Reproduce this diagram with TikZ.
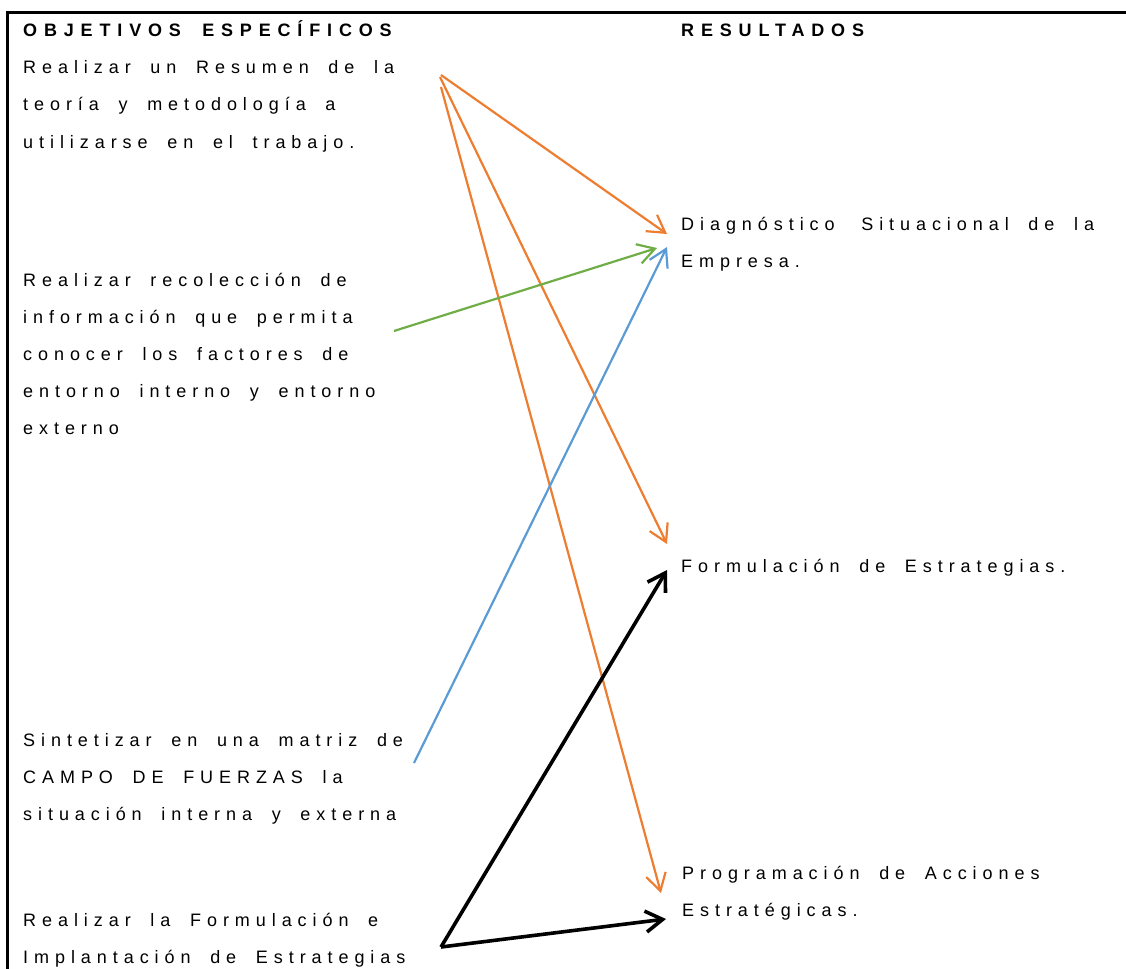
\documentclass[tikz,border=0pt]{standalone}
\usepackage{fontspec}
\setmainfont{Liberation Sans}
\usetikzlibrary{arrows.meta}
\definecolor{orangeA}{HTML}{ED7D31}
\definecolor{greenA}{HTML}{70AD47}
\definecolor{blueA}{HTML}{5B9BD5}
\newfontfamily\spaced[LetterSpace=33,WordSpace=1.8]{Liberation Sans}
\newfontfamily\spacedbold[LetterSpace=38,WordSpace=1.8]{Liberation Sans Bold}
\tikzset{
  txt/.style={anchor=base west, inner sep=0pt, font=\fontsize{18bp}{20bp}\spaced},
  hdr/.style={anchor=base west, inner sep=0pt, font=\fontsize{18bp}{20bp}\spacedbold},
  conn/.style={line width=2.2bp, -{Straight Barb[length=17bp,width=20bp]}},
  thickconn/.style={line width=3.6bp, -{Straight Barb[length=17bp,width=21bp]}},
  frame/.style={line width=3bp}
}
\begin{document}
\begin{tikzpicture}[x=1bp,y=-1bp]
\useasboundingbox (0,0) rectangle (1126,969);
% frame
\coordinate (tl) at (7.5,12);
\coordinate (tr) at (1126,12);
\coordinate (bl) at (7.5,969);
\draw[frame] (tr) -- (tl) -- (bl);
% headers
\node[hdr] (h1) at (23,36) {OBJETIVOS ESPECÍFICOS};
\node[hdr] (h2) at (681,36) {RESULTADOS};
% objective 1
\node[txt] (o1a) at (23,73) {Realizar un Resumen de la};
\node[txt] (o1b) at (23,110.5) {teoría y metodología a};
\node[txt] (o1c) at (23,148) {utilizarse en el trabajo.};
% objective 2
\node[txt] (o2a) at (23,286) {Realizar recolección de};
\node[txt] (o2b) at (23,323) {información que permita};
\node[txt] (o2c) at (23,360) {conocer los factores de};
\node[txt] (o2d) at (23,397) {entorno interno y entorno};
\node[txt] (o2e) at (23,434) {externo};
% objective 3
\node[txt] (o3a) at (23,746) {Sintetizar en una matriz de};
\node[txt] (o3b) at (23,783) {CAMPO DE FUERZAS la};
\node[txt] (o3c) at (23,820) {situación interna y externa};
% objective 4
\node[txt] (o4a) at (23,926) {Realizar la Formulación e};
\node[txt] (o4b) at (23,963) {Implantación de Estrategias};
% results
\node[txt] (r1a) at (681,230) {Diagnóstico\hspace{7bp} Situacional de la};
\node[txt] (r1b) at (681,267) {Empresa.};
\node[txt] (r2) at (681,572) {Formulación de Estrategias.};
\node[txt] (r3a) at (682,879) {Programación de Acciones};
\node[txt] (r3b) at (682,916) {Estratégicas.};
% connector ends
\coordinate (s1a) at (441,75);
\coordinate (s1b) at (440,77);
\coordinate (s1c) at (441,87);
\coordinate (s2) at (394,331);
\coordinate (s3) at (414,763);
\coordinate (s4) at (441,947);
\coordinate (e1o) at (667,234);
\coordinate (e1g) at (657,248);
\coordinate (e1b) at (667,247);
\coordinate (e2o) at (667,544);
\coordinate (e2k) at (667,570);
\coordinate (e3o) at (661,893);
\coordinate (e3k) at (666,919);
% connectors
\draw[conn, orangeA] (s1a) -- (e1o);
\draw[conn, orangeA] (s1b) -- (e2o);
\draw[conn, orangeA] (s1c) -- (e3o);
\draw[conn, greenA] (s2) -- (e1g);
\draw[conn, blueA] (s3) -- (e1b);
\draw[thickconn, black] (s4) -- (e2k);
\draw[thickconn, black] (s4) -- (e3k);
\end{tikzpicture}
\end{document}
